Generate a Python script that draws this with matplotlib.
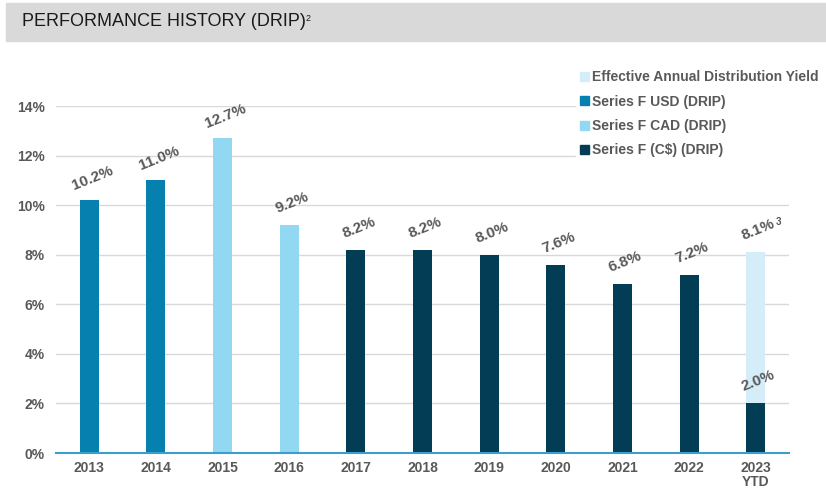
import matplotlib
matplotlib.use("Agg")
import matplotlib.pyplot as plt
from matplotlib.patches import Rectangle, Patch
from matplotlib.text import Annotation

plt.rcParams["font.family"] = ["Liberation Sans", "DejaVu Sans"]

# ── Données ─────────────────────────────────────────────
years = ["2013", "2014", "2015", "2016", "2017", "2018", "2019",
         "2020", "2021", "2022", "2023\nYTD"]
usd_years = ["2013", "2014"]
usd_vals = [10.2, 11.0]
cad_years = ["2015", "2016"]
cad_vals = [12.7, 9.2]
cs_years = ["2017", "2018", "2019", "2020", "2021", "2022", "2023\nYTD"]
cs_vals = [8.2, 8.2, 8.0, 7.6, 6.8, 7.2, 2.0]
yield_years = ["2023\nYTD"]
yield_vals = [8.1]

C_YIELD = "#D4EDF9"
C_USD = "#0580AF"
C_CAD = "#93D8F2"
C_CS = "#033C55"
GRIS = "#595959"

fig = plt.figure(figsize=(8.26, 4.9), dpi=100)

# bandeau du titre
fig.patches.append(Rectangle((6 / 826, 1 - 41 / 490), 820 / 826, 38 / 490,
                             transform=fig.transFigure, color="#D9D9D9", zorder=0))
titre = fig.text(22 / 826, 1 - 22 / 490, "PERFORMANCE HISTORY (DRIP)",
                 fontsize=13, color="#1A1A1A", va="center", ha="left")
fig.add_artist(Annotation("2", xy=(1, 0.95), xycoords=titre, xytext=(-0.5, 0),
                          textcoords="offset points", fontsize=6.5, color="#1A1A1A",
                          ha="left", va="top"))

ax = fig.add_axes([56 / 826, 1 - 453 / 490, 733 / 826, 347 / 490])
pos = {y: i for i, y in enumerate(years)}
w = 0.285

ax.bar([pos[y] for y in yield_years], yield_vals, w, color=C_YIELD, zorder=2)
ax.bar([pos[y] for y in usd_years], usd_vals, w, color=C_USD, zorder=3)
ax.bar([pos[y] for y in cad_years], cad_vals, w, color=C_CAD, zorder=3)
ax.bar([pos[y] for y in cs_years], cs_vals, w, color=C_CS, zorder=3)


def etiquette(x, v):
    return ax.annotate(f"{v:.1f}%", (x, v), xytext=(2, 16),
                       textcoords="offset points", ha="center", va="center",
                       rotation=22, fontsize=11, fontweight="bold", color=GRIS,
                       annotation_clip=False, zorder=5)


for ys, vs in [(usd_years, usd_vals), (cad_years, cad_vals), (cs_years, cs_vals)]:
    for y, v in zip(ys, vs):
        etiquette(pos[y], v)
for y, v in zip(yield_years, yield_vals):
    lab = etiquette(pos[y], v)
    ax.annotate("3", xy=(1, 1), xycoords=lab, xytext=(-1, 0), textcoords="offset points",
                fontsize=7, fontweight="bold", color=GRIS, ha="left", va="top",
                annotation_clip=False, zorder=5)

ax.set_xlim(-0.5, len(years) - 0.5)
ax.set_ylim(0, 14)
ax.set_yticks(range(0, 15, 2))
ax.set_yticklabels([f"{t}%" for t in range(0, 15, 2)])
ax.set_xticks(range(len(years)))
ax.set_xticklabels(years, linespacing=1.0)
ax.tick_params(axis="y", length=0, labelsize=10, labelcolor=GRIS, pad=8)
ax.tick_params(axis="x", length=0, labelsize=10, labelcolor=GRIS, pad=6)
for lab in ax.get_xticklabels() + ax.get_yticklabels():
    lab.set_fontweight("bold")
ax.grid(axis="y", color="#D9D9D9", lw=1, zorder=0)
for s in ["top", "right", "left"]:
    ax.spines[s].set_visible(False)
ax.spines["bottom"].set_color("#3A9FCB")
ax.spines["bottom"].set_linewidth(1.5)
ax.spines["bottom"].set_zorder(6)

handles = [Patch(color=C_YIELD), Patch(color=C_USD), Patch(color=C_CAD), Patch(color=C_CS)]
noms = ["Effective Annual Distribution Yield", "Series F USD (DRIP)",
        "Series F CAD (DRIP)", "Series F (C$) (DRIP)"]
leg = fig.legend(handles, noms, loc="upper left", bbox_to_anchor=(576 / 826, 1 - 66 / 490),
                 frameon=True, facecolor="white", edgecolor="white", framealpha=1,
                 handlelength=0.6, handleheight=0.6, handletextpad=0.25,
                 labelspacing=0.75, borderpad=0.3, borderaxespad=0,
                 prop={"size": 10, "weight": "bold"})
for t in leg.get_texts():
    t.set_color(GRIS)
leg.set_zorder(10)

fig.savefig("out.png", dpi=100)
